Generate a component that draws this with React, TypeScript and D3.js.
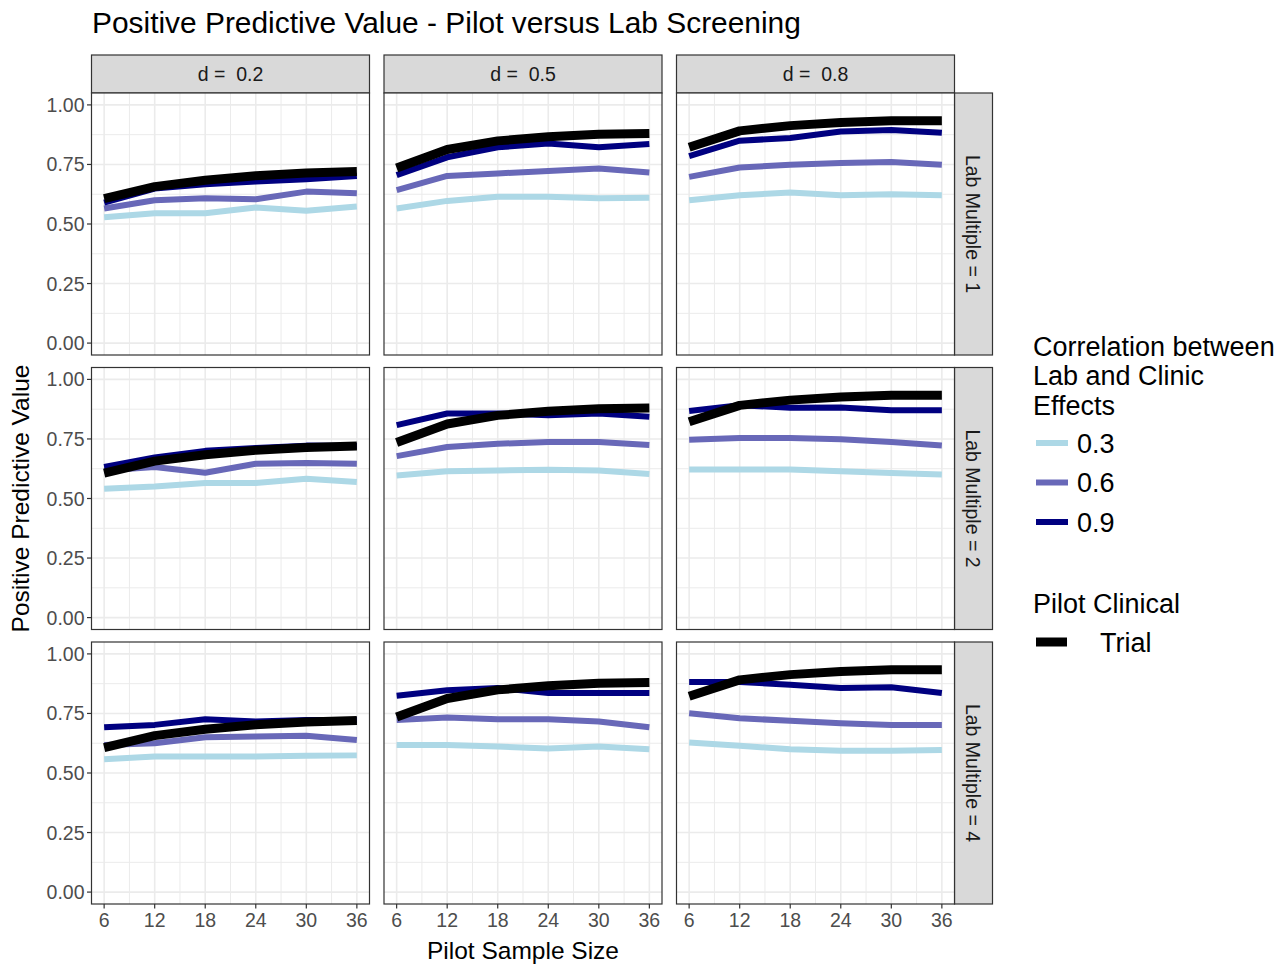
import * as d3 from "d3"

// data
const sampleSizes = [6, 12, 18, 24, 30, 36]
const effectSizes = ["0.2", "0.5", "0.8"]
const labMultiples = ["1", "2", "4"]
const correlations = ["0.3", "0.6", "0.9"]
const yTicks = [0, 0.25, 0.5, 0.75, 1]

// pilot clinical trial PPV, one series per effect size (same for every lab multiple)
const trial_d02 = [0.607, 0.657, 0.684, 0.703, 0.714, 0.72]
const trial_d05 = [0.735, 0.813, 0.849, 0.866, 0.877, 0.88]
const trial_d08 = [0.822, 0.891, 0.913, 0.926, 0.933, 0.934]

// lab screening PPV: [d=0.2, d=0.5, d=0.8] for each lab multiple / correlation
const lab1_r03 = [
    [0.528, 0.545, 0.545, 0.569, 0.556, 0.573],
    [0.565, 0.597, 0.614, 0.614, 0.608, 0.61],
    [0.6, 0.621, 0.632, 0.621, 0.625, 0.621],
]
const lab1_r06 = [
    [0.565, 0.6, 0.608, 0.604, 0.636, 0.629],
    [0.642, 0.702, 0.712, 0.723, 0.733, 0.716],
    [0.698, 0.737, 0.749, 0.756, 0.76, 0.749],
]
const lab1_r09 = [
    [0.59, 0.649, 0.667, 0.678, 0.688, 0.702],
    [0.705, 0.78, 0.822, 0.838, 0.822, 0.836],
    [0.785, 0.85, 0.861, 0.888, 0.895, 0.883],
]
const lab2_r03 = [
    [0.541, 0.55, 0.565, 0.565, 0.583, 0.569],
    [0.597, 0.614, 0.618, 0.621, 0.618, 0.603],
    [0.622, 0.622, 0.622, 0.614, 0.607, 0.601],
]
const lab2_r06 = [
    [0.618, 0.632, 0.608, 0.646, 0.649, 0.646],
    [0.678, 0.716, 0.73, 0.737, 0.737, 0.725],
    [0.747, 0.754, 0.754, 0.749, 0.737, 0.723],
]
const lab2_r09 = [
    [0.632, 0.672, 0.7, 0.712, 0.722, 0.72],
    [0.808, 0.857, 0.857, 0.85, 0.857, 0.843],
    [0.867, 0.892, 0.881, 0.882, 0.871, 0.871],
]
const lab4_r03 = [
    [0.558, 0.569, 0.569, 0.569, 0.572, 0.574],
    [0.618, 0.618, 0.611, 0.603, 0.611, 0.6],
    [0.628, 0.614, 0.6, 0.593, 0.593, 0.597],
]
const lab4_r06 = [
    [0.618, 0.625, 0.65, 0.653, 0.656, 0.639],
    [0.723, 0.733, 0.726, 0.726, 0.716, 0.692],
    [0.751, 0.73, 0.719, 0.709, 0.702, 0.702],
]
const lab4_r09 = [
    [0.692, 0.702, 0.726, 0.716, 0.723, 0.723],
    [0.824, 0.847, 0.857, 0.836, 0.836, 0.836],
    [0.882, 0.882, 0.871, 0.857, 0.86, 0.836],
]

const trialByEffect = [trial_d02, trial_d05, trial_d08]
const labByRow = [
    [lab1_r03, lab1_r06, lab1_r09],
    [lab2_r03, lab2_r06, lab2_r09],
    [lab4_r03, lab4_r06, lab4_r09],
]

const corrColors = ["#ADD8E6", "#6868B8", "#000080"]
const font = "'Liberation Sans', Arial, Helvetica, sans-serif"

// layout
const W = 1288
const H = 964
const panelW = 278
const panelH = 262
const colX = [91.5, 384, 676.5]
const rowY = [93, 367.5, 642]
const stripSize = 38

export default function App() {
    const x = d3.scaleLinear().domain([4.5, 37.5]).range([0, panelW])
    const y = d3.scaleLinear().domain([-0.05, 1.05]).range([panelH, 0])
    const line = d3.line<number>()
        .x((_, i) => x(sampleSizes[i]))
        .y(d => y(d))

    const minorX = d3.range(3, 40, 3).filter(v => v % 6 !== 0 && v > 4.5 && v < 37.5)
    const minorY = [0.125, 0.375, 0.625, 0.875]

    const panels = []
    labMultiples.forEach((lm, r) => {
        effectSizes.forEach((d, c) => {
            const px = colX[c]
            const py = rowY[r]
            panels.push(
                <g key={`p-${r}-${c}`} transform={`translate(${px},${py})`}>
                    <rect width={panelW} height={panelH} fill="white" />
                    {minorX.map(v => (
                        <line key={`mx${v}`} x1={x(v)} x2={x(v)} y1={0} y2={panelH} stroke="#EBEBEB" strokeWidth={1} />
                    ))}
                    {minorY.map(v => (
                        <line key={`my${v}`} x1={0} x2={panelW} y1={y(v)} y2={y(v)} stroke="#EBEBEB" strokeWidth={1} />
                    ))}
                    {sampleSizes.map(v => (
                        <line key={`gx${v}`} x1={x(v)} x2={x(v)} y1={0} y2={panelH} stroke="#EBEBEB" strokeWidth={1.6} />
                    ))}
                    {yTicks.map(v => (
                        <line key={`gy${v}`} x1={0} x2={panelW} y1={y(v)} y2={y(v)} stroke="#EBEBEB" strokeWidth={1.6} />
                    ))}
                    {correlations.map((corr, k) => (
                        <path key={`l${corr}`} d={line(labByRow[r][k][c]) || ""} fill="none"
                            stroke={corrColors[k]} strokeWidth={6} strokeLinejoin="round" />
                    ))}
                    <path d={line(trialByEffect[c]) || ""} fill="none" stroke="black"
                        strokeWidth={9} strokeLinejoin="round" />
                    <rect width={panelW} height={panelH} fill="none" stroke="#333333" strokeWidth={1.2} />
                </g>
            )
        })
    })

    return (
        <svg width={W} height={H} style={{ position: "absolute", left: 0, top: 0, background: "white" }}
            fontFamily={font}>
            <rect width={W} height={H} fill="white" />
            <text x={92} y={33} fontSize={29.9} fill="black">
                Positive Predictive Value - Pilot versus Lab Screening
            </text>

            {/* top strips */}
            {effectSizes.map((d, c) => (
                <g key={`st${d}`} transform={`translate(${colX[c]},${rowY[0] - stripSize})`}>
                    <rect width={panelW} height={stripSize} fill="#D9D9D9" stroke="#333333" strokeWidth={1.2} />
                    <text x={panelW / 2} y={stripSize / 2} dy="0.36em" textAnchor="middle" fontSize={19.5}
                        fill="#1A1A1A" style={{ whiteSpace: "pre" }}>{`d =  ${d}`}</text>
                </g>
            ))}

            {/* right strips */}
            {labMultiples.map((lm, r) => (
                <g key={`sr${lm}`} transform={`translate(${colX[2] + panelW},${rowY[r]})`}>
                    <rect width={stripSize} height={panelH} fill="#D9D9D9" stroke="#333333" strokeWidth={1.2} />
                    <text transform={`translate(${stripSize / 2},${panelH / 2}) rotate(90)`} dy="0.36em"
                        textAnchor="middle" fontSize={19.5} fill="#1A1A1A">{`Lab Multiple = ${lm}`}</text>
                </g>
            ))}

            {panels}

            {/* y axes */}
            {rowY.map((py, r) => (
                <g key={`ya${r}`} transform={`translate(${colX[0]},${py})`}>
                    {yTicks.map(v => (
                        <g key={v}>
                            <line x1={-4.5} x2={0} y1={y(v)} y2={y(v)} stroke="#333333" strokeWidth={1.2} />
                            <text x={-7} y={y(v)} dy="0.36em" textAnchor="end" fontSize={19.5} fill="#4D4D4D">
                                {d3.format(".2f")(v)}
                            </text>
                        </g>
                    ))}
                </g>
            ))}

            {/* x axes */}
            {colX.map((px, c) => (
                <g key={`xa${c}`} transform={`translate(${px},${rowY[2] + panelH})`}>
                    {sampleSizes.map(v => (
                        <g key={v}>
                            <line x1={x(v)} x2={x(v)} y1={0} y2={4.5} stroke="#333333" strokeWidth={1.2} />
                            <text x={x(v)} y={16} dy="0.36em" textAnchor="middle" fontSize={19.5} fill="#4D4D4D">
                                {v}
                            </text>
                        </g>
                    ))}
                </g>
            ))}

            <text x={(colX[0] + colX[2] + panelW) / 2} y={950} dy="0.36em" textAnchor="middle" fontSize={24.5}>
                Pilot Sample Size
            </text>
            <text transform={`translate(20,${(rowY[0] + rowY[2] + panelH) / 2}) rotate(-90)`} dy="0.36em"
                textAnchor="middle" fontSize={24.5}>
                Positive Predictive Value
            </text>

            {/* legend */}
            <g fontSize={27}>
                {["Correlation between", "Lab and Clinic", "Effects"].map((t, i) => (
                    <text key={t} x={1033} y={346 + i * 29.5} dy="0.36em">{t}</text>
                ))}
                {correlations.map((corr, k) => (
                    <g key={`lg${corr}`} transform={`translate(0,${443 + k * 39.5})`}>
                        <line x1={1036} x2={1068} y1={0} y2={0} stroke={corrColors[k]} strokeWidth={6} />
                        <text x={1077} y={0} dy="0.36em">{corr}</text>
                    </g>
                ))}
                <text x={1033} y={603} dy="0.36em">Pilot Clinical</text>
                <line x1={1036} x2={1067} y1={642} y2={642} stroke="black" strokeWidth={9} />
                <text x={1100} y={642} dy="0.36em">Trial</text>
            </g>
        </svg>
    )
}
